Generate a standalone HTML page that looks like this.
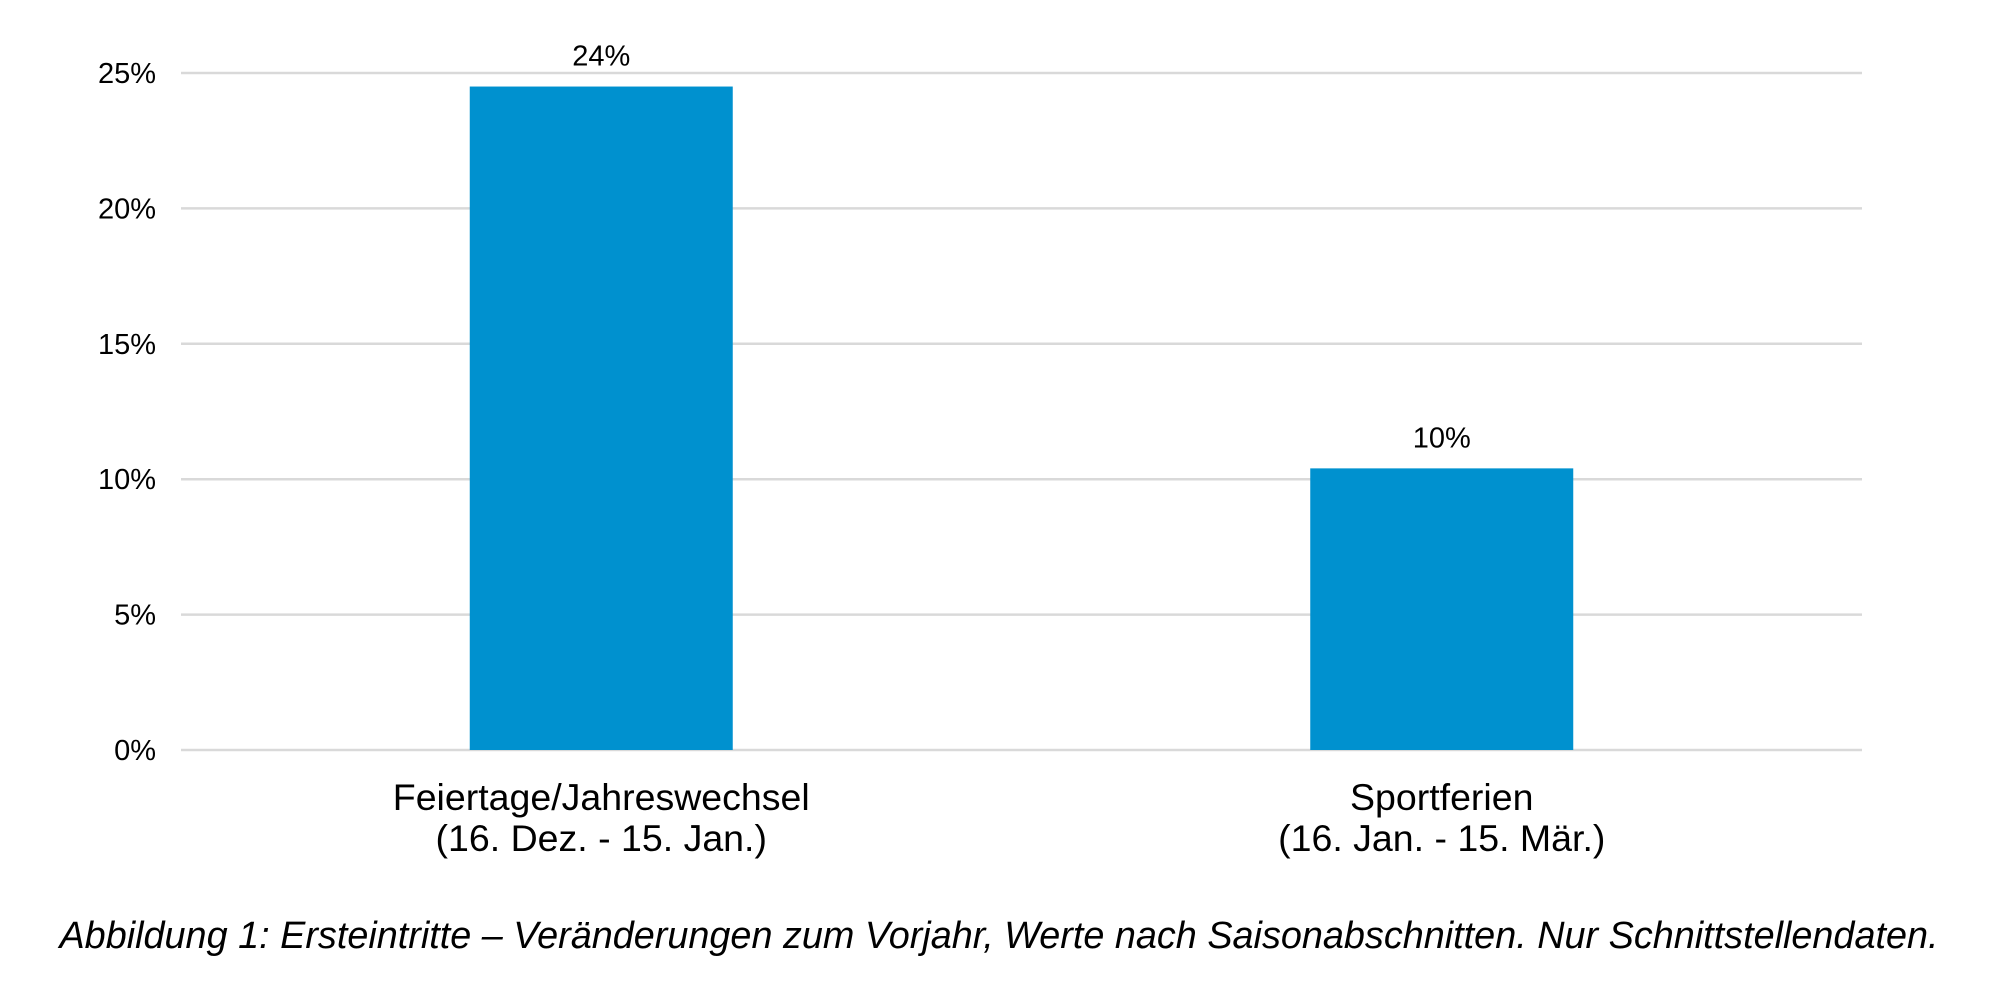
<!DOCTYPE html>
<html><head><meta charset="utf-8"><style>
html,body{margin:0;padding:0;background:#fff;width:2000px;height:999px;overflow:hidden}
svg{display:block;font-family:"Liberation Sans",Arial,sans-serif}
</style></head><body>
<svg id="chart" width="2000" height="999" viewBox="0 0 2000 999" xmlns="http://www.w3.org/2000/svg">
<g id="grid"></g>
<g id="yticks"></g>
<g id="bars"></g>
<g id="xlabels"></g>
<text x="999" y="948" text-anchor="middle" font-size="37.8" font-style="italic" fill="#000">Abbildung 1: Ersteintritte – Veränderungen zum Vorjahr, Werte nach Saisonabschnitten. Nur Schnittstellendaten.</text>
</svg>
<script>
const categories = [["Feiertage/Jahreswechsel","(16. Dez. - 15. Jan.)"],["Sportferien","(16. Jan. - 15. Mär.)"]];
const values = [24.5, 10.4];
const valueLabels = ["24%","10%"];
const ticks = [0,5,10,15,20,25];
const tickLabels = ["0%","5%","10%","15%","20%","25%"];

const NS="http://www.w3.org/2000/svg";
const x0=181,x1=1862,y0=750,yTop=73,maxV=25;
function y(v){return y0-(v/maxV)*(y0-yTop);}
const band=(x1-x0)/categories.length;
function xc(i){return x0+band*(i+0.5);}
const barW=263;
function mk(t,a){const e=document.createElementNS(NS,t);for(const k in a)e.setAttribute(k,a[k]);return e;}
const grid=document.getElementById('grid'),yt=document.getElementById('yticks'),bars=document.getElementById('bars'),xl=document.getElementById('xlabels');
ticks.forEach((t,i)=>{
  const l=mk('line',{x1:x0,x2:x1,y1:y(t),y2:y(t),stroke:'#d9d9d9','stroke-width':2.5});
  
  
  grid.appendChild(l);
  const tx=mk('text',{x:156,y:y(t)+10,'text-anchor':'end','font-size':29,fill:'#000'});
  tx.textContent=tickLabels[i];
  
  
  yt.appendChild(tx);
});
values.forEach((v,i)=>{
  const r=mk('rect',{x:xc(i)-barW/2,y:y(v),width:barW,height:y0-y(v),fill:'#0091cf'});
  
  
  bars.appendChild(r);
  const lb=mk('text',{x:xc(i),y:y(v)-21,'text-anchor':'middle','font-size':29,fill:'#000'});
  lb.textContent=valueLabels[i];
  
  
  bars.appendChild(lb);
  categories[i].forEach((s,j)=>{
    const c=mk('text',{x:xc(i),y:810+j*41,'text-anchor':'middle','font-size':37.5,fill:'#000'});
    c.textContent=s;
    
    
    xl.appendChild(c);
  });
});
</script>
</body></html>
